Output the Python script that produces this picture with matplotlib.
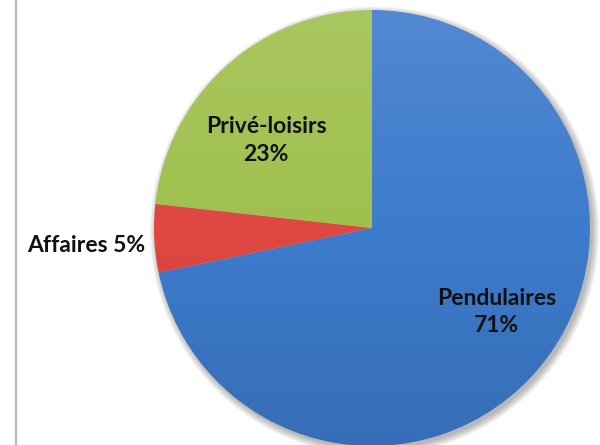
import numpy as np
import matplotlib
matplotlib.use("Agg")
import matplotlib.pyplot as plt
from matplotlib.lines import Line2D
from matplotlib.patches import Circle

# shares of trips by purpose (Excel-style pie, starting at 12 o'clock, clockwise)
categories = ["Pendulaires", "Affaires", "Privé-loisirs"]
values = [71, 5, 23]
pct_labels = ["71%", "5%", "23%"]
colors = ["#3D7BCC", "#DF4742", "#9FC04D"]

plt.rcParams['font.family'] = ['Lato', 'DejaVu Sans']

fig = plt.figure(figsize=(6, 4.45), dpi=100)
ax = fig.add_axes([0, 0, 1, 1])

# pie centre sits at (372, 228) px, radius ~218 px
r_px = 218.0
cx, cy = 372.0, 445 - 228.0

# soft shadow under the pie
for k in range(6):
    ax.add_patch(Circle((0.012, -0.014), 1.0 + 0.006 * k, color='black',
                        alpha=0.05, lw=0, zorder=0))

wedges, _ = ax.pie(values, colors=colors, startangle=90, counterclock=False,
                   radius=1.0, center=(0, 0), frame=True,
                   wedgeprops=dict(edgecolor='none', zorder=1))

# light-to-dark vertical shading over the pie
grad = np.zeros((256, 1, 4))
t = np.linspace(0, 1, 256)[:, None]
grad[..., :3] = np.where(t[..., None] < 0.5, 1.0, 0.0)
grad[..., 3] = np.abs(t - 0.5) * 0.22
img = ax.imshow(grad, extent=(-1, 1, -1, 1), origin='upper', aspect='auto',
                zorder=2, interpolation='bilinear')
img.set_clip_path(Circle((0, 0), 1.0, transform=ax.transData))

ax.set_xlim(-cx / r_px, (600 - cx) / r_px)
ax.set_ylim(-cy / r_px, (445 - cy) / r_px)
ax.set_aspect('equal')
ax.axis('off')

# labels
lbl_style = dict(fontsize=16.5, fontweight='bold', color='#111111', zorder=3)
for w, name, pct in zip(wedges, categories, pct_labels):
    mid = np.deg2rad((w.theta1 + w.theta2) / 2)
    if name == "Affaires":
        ax.text(1.04 * np.cos(mid), 1.04 * np.sin(mid) - 0.03, f"{name} {pct}",
                ha='right', va='center', **lbl_style)
    elif name == "Pendulaires":
        x, y = 0.69 * np.cos(mid + 0.09), 0.69 * np.sin(mid + 0.09)
        ax.text(x, y, f"{name}\n{pct}", ha='center', va='center',
                linespacing=1.4, **lbl_style)
    else:
        x, y = 0.63 * np.cos(mid + 0.15), 0.63 * np.sin(mid + 0.15)
        ax.text(x, y, f"{name}\n{pct}", ha='center', va='center',
                linespacing=1.4, **lbl_style)

# thin grey frame line at the left edge
fig.add_artist(Line2D([15.5 / 600, 15.5 / 600], [0, 1], color='#BBBBBB', lw=1.6))

fig.savefig("out.png", dpi=100)
